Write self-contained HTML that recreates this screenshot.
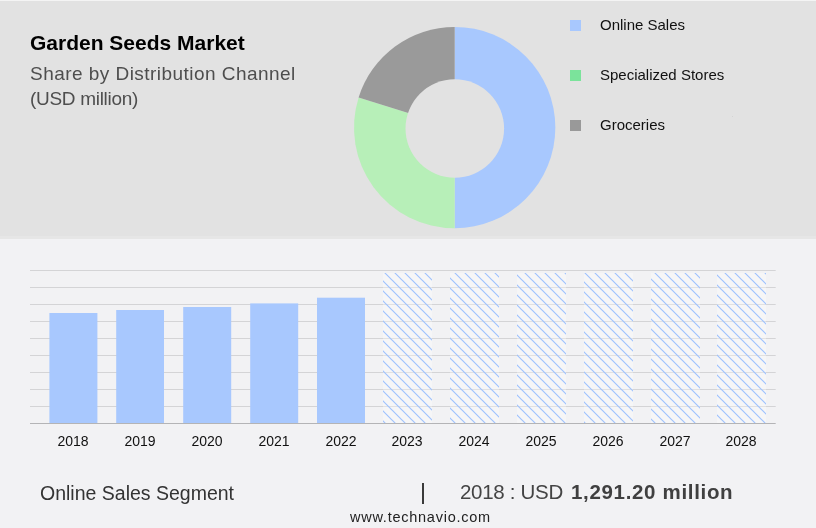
<!DOCTYPE html>
<html><head><meta charset="utf-8">
<style>
*{margin:0;padding:0;box-sizing:border-box}
html,body{width:816px;height:528px;overflow:hidden;background:#f2f2f4;font-family:"Liberation Sans",sans-serif}
#top{position:absolute;left:0;top:1px;width:816px;height:238px;background:#e2e2e2}
#topline{position:absolute;left:0;top:0;width:816px;height:1px;background:#f4f4f4}
.t{position:absolute;white-space:nowrap;line-height:1;will-change:transform}
#title{left:30px;top:32px;font-size:21px;font-weight:bold;color:#000}
#sub1{left:30px;top:64px;font-size:19px;color:#4e4e4e;letter-spacing:0.46px}
#sub2{left:30px;top:89px;font-size:19px;color:#4e4e4e;letter-spacing:-0.3px}
.leg{font-size:15px;color:#111}
.sq{position:absolute;width:11px;height:11px}
svg{position:absolute;left:0;top:0;will-change:transform}
.yr{font-size:14px;color:#222}
</style></head><body>
<div id="topline"></div>
<div id="top"></div>
<div style="position:absolute;left:0;top:236px;width:816px;height:3px;background:#e6e6e6"></div>
<div class="t" id="title">Garden Seeds Market</div>
<div class="t" id="sub1">Share by Distribution Channel</div>
<div class="t" id="sub2">(USD million)</div>

<div style="position:absolute;left:731.5px;top:115.5px;width:1.5px;height:1.5px;background:#cfcfcf;border-radius:1px"></div>
<div class="sq" style="left:570px;top:20px;background:#a8c8fe"></div>
<div class="sq" style="left:570px;top:70px;background:#7be39b"></div>
<div class="sq" style="left:570px;top:120px;background:#999999"></div>
<div class="t leg" style="left:600px;top:17px">Online Sales</div>
<div class="t leg" style="left:600px;top:67px">Specialized Stores</div>
<div class="t leg" style="left:600px;top:117px">Groceries</div>

<svg width="816" height="528" viewBox="0 0 816 528">
<defs>
<pattern id="hatch" patternUnits="userSpaceOnUse" width="10" height="10" patternTransform="translate(2,0)">
<path d="M-5,-5 L15,15 M-5,5 L5,15 M5,-5 L15,5" stroke="#9fc2fd" stroke-width="1.2"/>
</pattern>
</defs>
<!-- donut -->
<g id="donut"><path d="M454.7,127.6 L454.70,26.90 A100.7,100.7 0 0 1 454.70,228.30 Z" fill="#a8c8fe"/><path d="M454.7,127.6 L454.70,228.30 A100.7,100.7 0 0 1 358.61,97.49 Z" fill="#b7efb8"/><path d="M454.7,127.6 L358.61,97.49 A100.7,100.7 0 0 1 454.70,26.90 Z" fill="#9a9a9a"/><circle cx="454.8" cy="128.5" r="49.3" fill="#e2e2e2"/></g>
<!-- grid -->
<g stroke="#d4d4d6" stroke-width="1">
<line x1="30" y1="270.5" x2="775.7" y2="270.5"/>
<line x1="30" y1="287.5" x2="775.7" y2="287.5"/>
<line x1="30" y1="304.5" x2="775.7" y2="304.5"/>
<line x1="30" y1="321.5" x2="775.7" y2="321.5"/>
<line x1="30" y1="338.5" x2="775.7" y2="338.5"/>
<line x1="30" y1="355.5" x2="775.7" y2="355.5"/>
<line x1="30" y1="372.5" x2="775.7" y2="372.5"/>
<line x1="30" y1="389.5" x2="775.7" y2="389.5"/>
<line x1="30" y1="406.5" x2="775.7" y2="406.5"/>
</g>
<g fill="#a8c8fe">
<rect x="49.4" y="313" width="48" height="110"/>
<rect x="116.2" y="310" width="47.8" height="113"/>
<rect x="183.2" y="307" width="48" height="116"/>
<rect x="250.2" y="303.4" width="48" height="119.6"/>
<rect x="317" y="297.7" width="48" height="125.3"/>
</g>
<g fill="#ffffff" fill-opacity="0.3">
<rect x="383" y="273" width="49" height="150"/>
<rect x="450" y="273" width="49" height="150"/>
<rect x="517" y="273" width="49" height="150"/>
<rect x="584" y="273" width="49" height="150"/>
<rect x="651" y="273" width="49" height="150"/>
<rect x="717" y="273" width="49" height="150"/>
</g>
<g fill="url(#hatch)">
<rect x="383" y="273" width="49" height="150"/>
<rect x="450" y="273" width="49" height="150"/>
<rect x="517" y="273" width="49" height="150"/>
<rect x="584" y="273" width="49" height="150"/>
<rect x="651" y="273" width="49" height="150"/>
<rect x="717" y="273" width="49" height="150"/>
</g>
<line x1="30" y1="423.5" x2="775.7" y2="423.5" stroke="#b4b4b6" stroke-width="1"/>
<g font-family="Liberation Sans" font-size="14" fill="#111" text-anchor="middle">
<text x="73" y="446">2018</text>
<text x="140" y="446">2019</text>
<text x="207" y="446">2020</text>
<text x="274" y="446">2021</text>
<text x="341" y="446">2022</text>
<text x="407" y="446">2023</text>
<text x="474" y="446">2024</text>
<text x="541" y="446">2025</text>
<text x="608" y="446">2026</text>
<text x="675" y="446">2027</text>
<text x="741" y="446">2028</text>
</g>
</svg>
<div class="t" style="left:40px;top:484.3px;font-size:19.5px;color:#333">Online Sales Segment</div>
<div style="position:absolute;left:421.8px;top:483.3px;width:2px;height:20.7px;background:#3a3a3a"></div>
<div class="t" style="left:460px;top:482px;font-size:20.5px;color:#444;letter-spacing:-0.3px">2018 : USD</div>
<div class="t" style="left:571px;top:482px;font-size:20.5px;color:#404040;font-weight:bold;letter-spacing:0.67px">1,291.20 million</div>
<div class="t" style="left:350px;top:509.7px;font-size:14.5px;color:#222;letter-spacing:0.75px">www.technavio.com</div>
</body></html>
